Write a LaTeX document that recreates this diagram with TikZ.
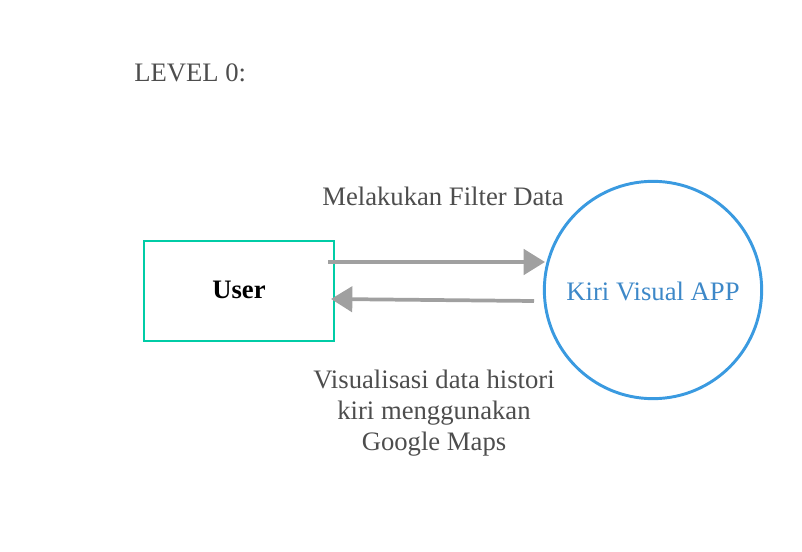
\documentclass[tikz,border=0pt]{standalone}
\usepackage{fontspec}
\setmainfont{Liberation Serif}
\usetikzlibrary{arrows.meta}
\definecolor{txtgray}{HTML}{4D4D4D}
\definecolor{boxteal}{HTML}{00CCA6}
\definecolor{circblue}{HTML}{3A9AE0}
\definecolor{kiriblue}{HTML}{3D88C8}
\definecolor{arrgray}{HTML}{A0A0A0}
\tikzset{
  lbl/.style={font=\fontsize{20pt}{23pt}\selectfont, text=txtgray, inner sep=0pt},
  entity/.style={draw=boxteal, line width=2pt, minimum width=142.5pt, minimum height=75pt, inner sep=0pt},
  proc/.style={draw=circblue, line width=2.2pt, circle, minimum size=163pt, inner sep=0pt},
  flow/.style={draw=arrgray, line width=2.8pt, -{Triangle[length=16pt,width=19pt]}}
}
\begin{document}
\begin{tikzpicture}[x=0.75pt,y=-0.75pt]
\useasboundingbox (0,0) rectangle (802,552);
\node[lbl, anchor=base west] (lvl) at (134,82) {LEVEL 0:};
\node[entity] (user) at (239,291) {};
\node[lbl, text=black, font=\fontsize{20pt}{23pt}\selectfont\bfseries, anchor=base] (usert) at (239,298) {User};
\node[proc] (app) at (653,290) {};
\node[lbl, text=kiriblue, anchor=base] (appt) at (653,300) {Kiri Visual APP};
\coordinate (a1s) at (328,262);
\coordinate (a1e) at (545,262);
\coordinate (a2s) at (534,301);
\coordinate (a2e) at (331,299);
\draw[flow] (a1s) -- (a1e);
\draw[flow] (a2s) -- (a2e);
\node[lbl, anchor=base] (l1) at (443,205) {Melakukan Filter Data};
\node[lbl, anchor=base, align=center] (l2) at (434,388) {Visualisasi data histori};
\node[lbl, anchor=base] (l3) at (434,419) {kiri menggunakan};
\node[lbl, anchor=base] (l4) at (434,450) {Google Maps};
\end{tikzpicture}
\end{document}
